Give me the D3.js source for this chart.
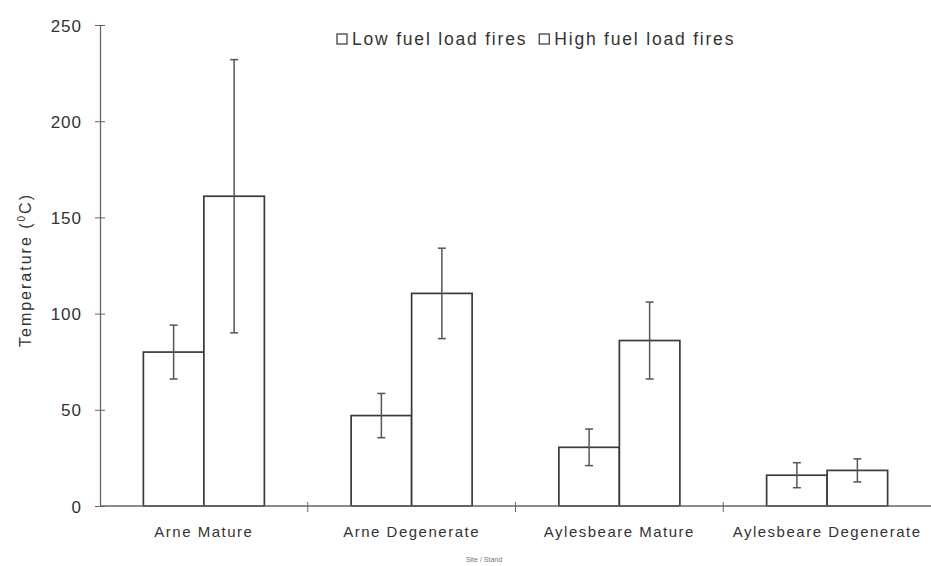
<!doctype html>
<html lang="en">
<head>
<meta charset="UTF-8">
<title>Fire temperatures</title>
<script src="https://cdn.jsdelivr.net/npm/d3@7"></script>
<style>
  body { margin: 0; background: #fff; }
  text { font-family: "Liberation Sans", Arial, sans-serif; fill: #333; }
</style>
</head>
<body>
<svg></svg>
<script>
const categories = ["Arne Mature", "Arne Degenerate", "Aylesbeare Mature", "Aylesbeare Degenerate"];
const series = ["Low fuel load fires", "High fuel load fires"];
const lowMean = [80, 47, 30.5, 16];
const lowErr = [14, 11.5, 9.5, 6.5];
const highMean = [161, 110.5, 86, 18.5];
const highErr = [71, 23.5, 20, 6];
const yTicks = [0, 50, 100, 150, 200, 250];

const width = 931, height = 566;
const margin = {top: 25, right: 0, bottom: 60, left: 100};

const svg = d3.select("svg").attr("width", width).attr("height", height);

const x = d3.scaleBand().domain(categories)
    .range([margin.left, width]).paddingInner(0).paddingOuter(0);
const xs = d3.scaleBand().domain(series)
    .range([-60.5, 60.5]);
const y = d3.scaleLinear().domain([0, 250]).range([506, 25]);

const rows = categories.map((c, i) => [
  {cat: c, s: series[0], v: lowMean[i], e: lowErr[i]},
  {cat: c, s: series[1], v: highMean[i], e: highErr[i]}
]).flat();

// bars
svg.append("g").selectAll("rect").data(rows).enter().append("rect")
   .attr("x", d => x(d.cat) + x.bandwidth() / 2 + xs(d.s))
   .attr("y", d => y(d.v))
   .attr("width", xs.bandwidth())
   .attr("height", d => y(0) - y(d.v))
   .style("fill", "#fff")
   .style("stroke", "#3a3a3a")
   .style("stroke-width", 1.7);

// error bars
const eb = svg.append("g").style("stroke", "#555").style("stroke-width", 1.5);
rows.forEach(d => {
  const cx = x(d.cat) + x.bandwidth() / 2 + xs(d.s) + xs.bandwidth() / 2;
  eb.append("line").attr("x1", cx).attr("x2", cx).attr("y1", y(d.v + d.e)).attr("y2", y(d.v - d.e));
  [d.v + d.e, d.v - d.e].forEach(v => {
    eb.append("line").attr("x1", cx - 4).attr("x2", cx + 4).attr("y1", y(v)).attr("y2", y(v));
  });
});

// y axis
const yAxis = svg.append("g").attr("transform", `translate(${margin.left},0)`)
   .call(d3.axisLeft(y).tickValues(yTicks).tickSizeInner(4).tickSizeOuter(0).tickPadding(14));
yAxis.select(".domain").style("stroke", "#666").style("stroke-width", 1.3);
yAxis.selectAll(".tick line").attr("x2", 5).attr("x1", -5).style("stroke", "#666");
yAxis.selectAll(".tick text")
   .attr("dy", "0.36em")
   .style("font-size", "17px").style("letter-spacing", "1px").style("fill", "#333");

// x axis
const xAxis = svg.append("g").attr("transform", `translate(0,${y(0)})`)
   .call(d3.axisBottom(x).tickSize(0).tickPadding(20));
xAxis.select(".domain").attr("d", `M${margin.left},0H${width}`).style("stroke", "#666").style("stroke-width", 1.3);
xAxis.selectAll(".tick text")
   .style("font-size", "15px").style("letter-spacing", "1.5px").style("fill", "#333");
xAxis.selectAll(".sep").data(categories.slice(1)).enter().append("line")
   .attr("class", "sep")
   .attr("x1", d => x(d)).attr("x2", d => x(d))
   .attr("y1", -4).attr("y2", 6)
   .style("stroke", "#666");

// axis titles
const yl = svg.append("text")
   .attr("transform", "translate(31,270) rotate(-90)")
   .attr("text-anchor", "middle")
   .style("font-size", "16px")
   .style("letter-spacing", "2px");
yl.append("tspan").text("Temperature (");
yl.append("tspan").attr("dy", -6).style("font-size", "10px").text("0");
yl.append("tspan").attr("dy", 6).text("C)");

svg.append("text")
   .attr("x", 484).attr("y", 562)
   .attr("text-anchor", "middle")
   .style("font-size", "7px")
   .style("fill", "#777")
   .text("Site / Stand");

// legend
const leg = svg.append("g").attr("transform", "translate(337,45)");
let lx = 0;
series.forEach(s => {
  leg.append("rect").attr("x", lx).attr("y", -11).attr("width", 10).attr("height", 10)
     .style("fill", "#fff").style("stroke", "#444").style("stroke-width", 1.3);
  const t = leg.append("text").attr("x", lx + 15).attr("y", 0)
     .style("font-size", "17.5px").style("letter-spacing", "1.8px").text(s);
  lx += 15 + t.node().getComputedTextLength() + 12;
});
</script>
</body>
</html>
